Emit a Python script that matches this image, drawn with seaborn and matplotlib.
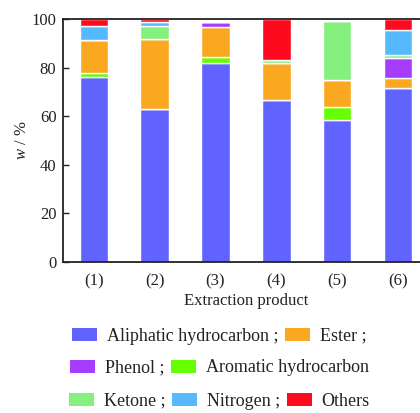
import matplotlib
matplotlib.use("Agg")
import matplotlib.pyplot as plt
import seaborn as sns
import numpy as np
from matplotlib.patches import Patch

sns.set_theme(style="white")
plt.rcParams['font.family'] = ['Liberation Serif', 'DejaVu Serif']
plt.rcParams['mathtext.fontset'] = 'custom'
plt.rcParams['mathtext.it'] = 'Liberation Serif:italic'
plt.rcParams['mathtext.rm'] = 'Liberation Serif'

products = ["(1)", "(2)", "(3)", "(4)", "(5)", "(6)"]
aliphatic = [76.4, 63.0, 82.1, 66.8, 58.5, 71.8]
aromatic = [1.6, 0.0, 2.5, 0.0, 5.2, 0.0]
ester = [13.5, 28.9, 12.1, 15.1, 11.4, 3.9]
phenol = [0.0, 0.0, 2.2, 0.0, 0.0, 8.2]
ketone = [0.0, 5.2, 0.0, 1.2, 24.1, 1.3]
nitrogen = [5.8, 1.8, 0.0, 0.0, 0.0, 10.4]
others = [2.7, 1.1, 0.0, 16.9, 0.0, 4.4]

series_names = ["Aliphatic hydrocarbon", "Aromatic hydrocarbon", "Ester", "Phenol",
                "Ketone", "Nitrogen", "Others"]
series_vals = [aliphatic, aromatic, ester, phenol, ketone, nitrogen, others]
colors = {"Aliphatic hydrocarbon": "#6163FF", "Aromatic hydrocarbon": "#66FF00",
          "Ester": "#FAA81F", "Phenol": "#A63DFD", "Ketone": "#86F07E",
          "Nitrogen": "#56B9FE", "Others": "#FE0A1E"}

fig = plt.figure(figsize=(4.2, 4.13), dpi=100)
ax = fig.add_axes([0.151, 0.366, 0.869, 0.587])

bottom = np.zeros(len(products))
for name, vals in zip(series_names, series_vals):
    v = np.array(vals)
    sns.barplot(x=products, y=v, bottom=bottom, color=colors[name], width=0.47,
                edgecolor="white", linewidth=1.0, saturation=1, ax=ax)
    bottom = bottom + v

ax.set_xlim(-0.5, 5.5)
ax.set_ylim(0, 100)
ax.set_yticks([0, 20, 40, 60, 80, 100])
ax.tick_params(axis='both', direction='in', length=4, width=1, labelsize=12,
               colors='#222222', bottom=True, left=True, top=False, right=False)
ax.tick_params(axis='x', pad=8)
ax.tick_params(axis='y', pad=5)
for s in ax.spines.values():
    s.set_color('#222222')
    s.set_linewidth(1.3)
    s.set_visible(True)
ax.set_xlabel("Extraction product", fontsize=12, color='#222222', labelpad=3)
ax.set_ylabel("$w$ / %", fontsize=12, color='#222222', labelpad=1)

def mk(names):
    return [Patch(facecolor=colors[n], edgecolor='none') for n in names]

rows = [
    (["Aliphatic hydrocarbon", "Ester"], ["Aliphatic hydrocarbon ;", "Ester ;"], 0.186),
    (["Phenol", "Aromatic hydrocarbon"], ["Phenol ;", "Aromatic hydrocarbon"], 0.109),
    (["Ketone", "Nitrogen", "Others"], ["Ketone ;", "Nitrogen ;", "Others"], 0.029),
]
for names, labels, yy in rows:
    fig.legend(handles=mk(names), labels=labels, loc='center', bbox_to_anchor=(0.522, yy),
               ncol=len(names), frameon=False, fontsize=13, handlelength=1.4,
               handleheight=0.75, handletextpad=0.55, columnspacing=0.35, borderpad=0,
               labelcolor='#222222')

fig.savefig("out.png", dpi=100)
